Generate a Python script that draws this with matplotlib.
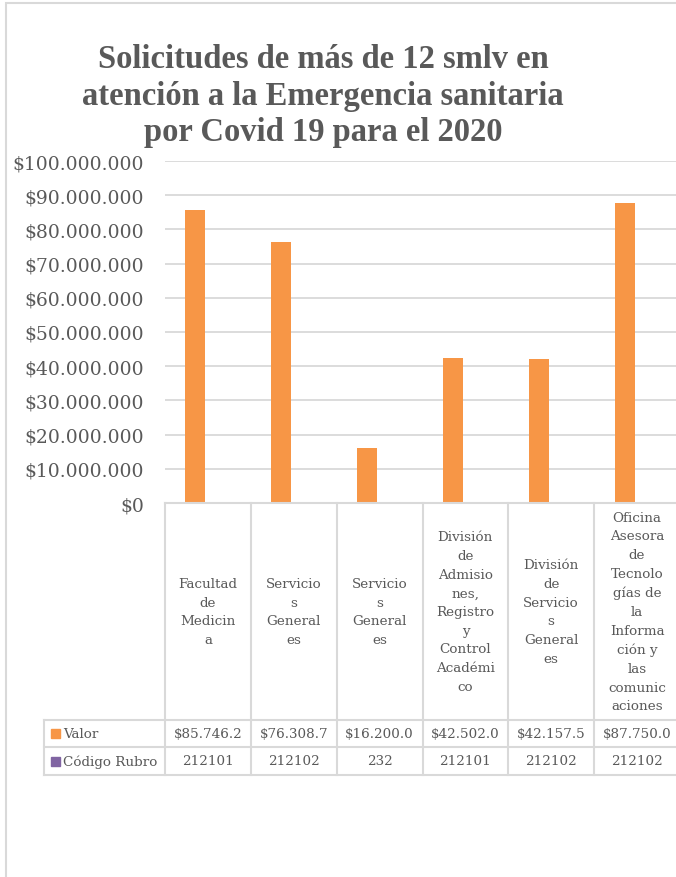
import matplotlib
matplotlib.use('Agg')
import matplotlib.pyplot as plt
import matplotlib.transforms as mtransforms
from matplotlib.lines import Line2D
from matplotlib.patches import Rectangle

# Datos del gráfico
categorias = [
    'Facultad\nde\nMedicin\na',
    'Servicio\ns\nGeneral\nes',
    'Servicio\ns\nGeneral\nes',
    'División\nde\nAdmisio\nnes,\nRegistro\ny\nControl\nAcadémi\nco',
    'División\nde\nServicio\ns\nGeneral\nes',
    'Oficina\nAsesora\nde\nTecnolo\ngías de\nla\nInforma\nción y\nlas\ncomunic\naciones',
]
valores = [85746200, 76308700, 16200000, 42502000, 42157500, 87750000]
codigos = [212101, 212102, 232, 212101, 212102, 212102]
series = ['Valor', 'Código Rubro']
colores = ['#F79646', '#8064A2']
yticks = [0, 10000000, 20000000, 30000000, 40000000, 50000000,
          60000000, 70000000, 80000000, 90000000, 100000000]

titulo = 'Solicitudes de más de 12 smlv en\natención a la Emergencia sanitaria\npor Covid 19 para el 2020'

gris_texto = '#595959'
gris_linea = '#D9D9D9'
fuente = 'DejaVu Serif'

W, H = 676, 878
fig = plt.figure(figsize=(W / 100, H / 100), dpi=100)


def fx(px):
    return px / W


def fy(py):
    return 1 - py / H


# Borde del área del gráfico
fig.patches.append(Rectangle((fx(6), -0.1), 1.2, fy(4) + 0.1, fill=False,
                             ec=gris_linea, lw=1.5, transform=fig.transFigure))

# Título
fig.text(fx(323), fy(96), titulo, ha='center', va='center', fontsize=23.5,
         weight='bold', family='Liberation Serif', color=gris_texto, linespacing=1.23)

# Área de trazado
ax = fig.add_axes([fx(165), fy(504), fx(680) - fx(165), fy(162) - fy(504)])
n = len(valores)
ancho = 0.233
desp = 0.145
ax.bar([i - desp for i in range(n)], valores, ancho, color=colores[0], zorder=2)
ax.bar([i - desp + ancho for i in range(n)], codigos, ancho, color=colores[1], zorder=2)
ax.set_xlim(-0.5, n - 0.5)
ax.set_ylim(0, 100000000)
ax.set_yticks(yticks)
ax.set_yticklabels(['$' + f'{v:,}'.replace(',', '.') for v in yticks],
                   family=fuente, fontsize=13.5, color=gris_texto)
ax.set_xticks([])
ax.yaxis.grid(True, color=gris_linea, lw=1.3)
ax.set_axisbelow(True)
for s in ax.spines.values():
    s.set_visible(False)
ax.tick_params(axis='y', length=0, pad=15)

# Tabla de datos
trans = mtransforms.blended_transform_factory(ax.transData, fig.transFigure)
y_top, y_head, y_val, y_cod = fy(504), fy(721), fy(748), fy(776)
x_izq = fx(44)

for i in range(n + 1):
    fig.lines.append(Line2D([i - 0.5, i - 0.5], [y_top, y_cod], color=gris_linea,
                            lw=1.5, transform=trans))
fig.lines.append(Line2D([-0.5, n - 0.5], [y_top, y_top], color=gris_linea,
                        lw=1.5, transform=trans))
for yy in [y_head, y_val, y_cod]:
    fig.lines.append(Line2D([x_izq, 1.05], [yy, yy], color=gris_linea, lw=1.5,
                            transform=fig.transFigure))
fig.lines.append(Line2D([x_izq, x_izq], [y_head, y_cod], color=gris_linea, lw=1.5,
                        transform=fig.transFigure))

for i in range(n):
    fig.text(i, (y_top + y_head) / 2, categorias[i], transform=trans, ha='center',
             va='center', multialignment='center', family=fuente, fontsize=9.7,
             color=gris_texto, linespacing=1.57)
    txt_valor = ('$' + f'{valores[i]:,}'.replace(',', '.'))[:9]
    fig.text(i, (y_head + y_val) / 2, txt_valor, transform=trans, ha='center',
             va='center', family=fuente, fontsize=9.7, color=gris_texto)
    fig.text(i, (y_val + y_cod) / 2, str(codigos[i]), transform=trans, ha='center',
             va='center', family=fuente, fontsize=9.7, color=gris_texto)

# Etiquetas de las filas con su clave de color
for k, yc in enumerate([(y_head + y_val) / 2, (y_val + y_cod) / 2]):
    fig.patches.append(Rectangle((fx(51), yc - 4.5 / H), 9 / W, 9 / H, color=colores[k],
                                 transform=fig.transFigure))
    fig.text(fx(63), yc, series[k], ha='left', va='center', family=fuente,
             fontsize=9.7, color=gris_texto)

fig.savefig('out.png', dpi=100)
